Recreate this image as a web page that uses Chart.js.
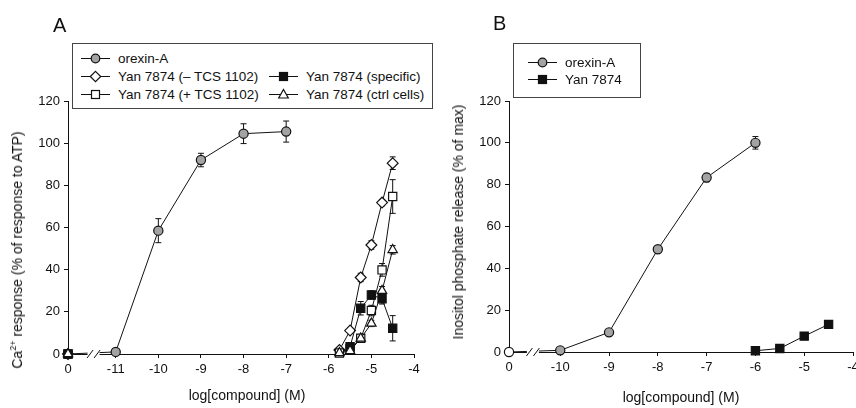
<!DOCTYPE html>
<html lang="en">
<head>
<meta charset="UTF-8">
<title>Orexin-A / Yan 7874 concentration-response</title>
<script src="https://cdn.jsdelivr.net/npm/chart.js"></script>
<style>
    html, body {
        margin: 0;
        padding: 0;
        width: 856px;
        height: 408px;
        overflow: hidden;
        background: #fff;
        font-family: "Liberation Sans", Arial, sans-serif;
        color: #111;
    }
    .panel { position: absolute; top: 0; height: 408px; overflow: hidden; }
    #panelA { left: 0; width: 440px; }
    #panelB { left: 440px; width: 416px; }
    .letter { position: absolute; font-size: 20px; line-height: 1; }
    .ytitle { position: absolute; font-size: 14px; white-space: nowrap; transform: translate(-50%, -50%) rotate(-90deg); }
    .xtitle { position: absolute; font-size: 14px; white-space: nowrap; transform: translate(-50%, -50%); }
    .ytitle sup { font-size: 9px; vertical-align: 6px; line-height: 0; }
    .legend { position: absolute; border: 1px solid #444; background: #fff; box-sizing: border-box; }
    .item { position: absolute; display: flex; align-items: center; white-space: nowrap; font-size: 13.5px; transform: translateY(-50%); }
    .item svg { margin-right: 8px; }
</style>
</head>
<body>

<div id="panelA" class="panel"><canvas id="chartA" width="440" height="408"></canvas></div>
<div id="panelB" class="panel"><canvas id="chartB" width="440" height="408"></canvas></div>

<div class="letter" style="left:53px; top:15px;">A</div>
<div class="letter" style="left:493px; top:13px;">B</div>

<div class="ytitle" style="left:17px; top:250px;">Ca<sup>2+</sup> response (% of response to ATP)</div>
<div class="ytitle" style="left:458px; top:222px;">Inositol phosphate release (% of max)</div>
<div class="xtitle" style="left:247px; top:395px;">log[compound] (M)</div>
<div class="xtitle" style="left:681px; top:397px;">log[compound] (M)</div>

<div class="legend" id="legendA" style="left:72px; top:43px; width:361px; height:66px;"></div>
<div class="legend" id="legendB" style="left:513px; top:43px; width:128px; height:55px;"></div>

<script>
    // ---- data (log M; 0 = control, drawn left of the axis break) ----
    // panel A: Ca2+ response (% of response to ATP)
    const orexinA_dose = [0, -11, -10, -9, -8, -7];
    const orexinA_resp = [0, 1, 58.5, 92, 104.5, 105.5];
    const orexinA_err = [0, 0, 5.7, 3.2, 4.7, 5];

    const yanMinusTcs_dose = [0, -5.75, -5.5, -5.25, -5, -4.75, -4.5];
    const yanMinusTcs_resp = [0, 1.9, 11.1, 36.3, 51.7, 71.8, 90.5];
    const yanMinusTcs_err = [0, 0.5, 1, 2, 2, 1.5, 3];

    const yanPlusTcs_dose = [0, -5.75, -5.5, -5.25, -5, -4.75, -4.5];
    const yanPlusTcs_resp = [0, 0.5, 2.5, 7.5, 20.6, 39.9, 74.7];
    const yanPlusTcs_err = [0, 0, 1, 1.5, 2.5, 3, 8];

    const yanSpecific_dose = [0, -5.5, -5.25, -5, -4.75, -4.5];
    const yanSpecific_resp = [0, 3.5, 21.7, 28, 26.2, 12.2];
    const yanSpecific_err = [0, 1, 3.2, 2, 2.5, 6];

    const yanCtrl_dose = [0, -5.75, -5.5, -5.25, -5, -4.75, -4.5];
    const yanCtrl_resp = [0, 0.5, 1.5, 7.4, 14.5, 30, 49.4];
    const yanCtrl_err = [0, 0, 0.5, 1, 1.5, 2, 2];

    // panel B: inositol phosphate release (% of max)
    const orexinB_dose = [0, -10, -9, -8, -7, -6];
    const orexinB_resp = [0, 0.8, 9.4, 49.1, 83.4, 100];
    const orexinB_err = [0, 0, 0, 0, 2, 3];

    const yanB_dose = [-6, -5.5, -5, -4.5];
    const yanB_resp = [0.6, 1.7, 7.6, 13.2];

    const ticksA = [-11, -10, -9, -8, -7, -6, -5, -4];
    const ticksB = [-10, -9, -8, -7, -6, -5, -4];
    const yTicks = [0, 20, 40, 60, 80, 100, 120];

    // where the control (0) sits on the broken log axis
    const CTRL_A = -12.12, BREAK_A = -11.52;
    const CTRL_B = -11.05, BREAK_B = -10.56;

    const INK = '#111';
    const GRAY = '#a3a3a3';
    const FONT = { family: '"Liberation Sans", Arial, sans-serif', size: 13 };

    function pts(dose, resp, ctrl) {
        return dose.map((d, i) => ({ x: d === 0 ? ctrl : d, y: resp[i] }));
    }

    function series(label, dose, resp, err, ctrl, style, radius, fill, order, joinCtrl) {
        const ds = {
            label: label,
            data: pts(dose, resp, ctrl),
            errors: err,
            order: order,
            borderColor: INK,
            borderWidth: 1,
            tension: 0,
            clip: false,
            pointStyle: style,
            pointRadius: radius,
            pointHoverRadius: radius,
            pointBackgroundColor: fill,
            pointBorderColor: INK,
            pointBorderWidth: 1.2
        };
        // the Yan curves are not joined to their control point (it lies on the axis)
        if (!joinCtrl) {
            ds.segment = { borderColor: c => c.p0.parsed.x === ctrl ? 'rgba(0,0,0,0)' : INK };
        }
        return ds;
    }

    const errorBars = {
        id: 'errorBars',
        beforeDatasetsDraw(chart) {
            const ctx = chart.ctx, ys = chart.scales.y;
            ctx.save();
            ctx.strokeStyle = INK;
            ctx.lineWidth = 1;
            chart.data.datasets.forEach((ds, i) => {
                if (!ds.errors) return;
                chart.getDatasetMeta(i).data.forEach((p, j) => {
                    const e = ds.errors[j];
                    if (!e) return;
                    const v = ds.data[j].y;
                    const t = ys.getPixelForValue(v + e), b = ys.getPixelForValue(v - e);
                    ctx.beginPath();
                    ctx.moveTo(p.x, t); ctx.lineTo(p.x, b);
                    ctx.moveTo(p.x - 3, t); ctx.lineTo(p.x + 3, t);
                    ctx.moveTo(p.x - 3, b); ctx.lineTo(p.x + 3, b);
                    ctx.stroke();
                });
            });
            ctx.restore();
        }
    };

    const axisBreak = {
        id: 'axisBreak',
        afterDatasetsDraw(chart, args, opts) {
            const ctx = chart.ctx;
            const cx = chart.scales.x.getPixelForValue(opts.at);
            const cy = chart.chartArea.bottom;
            ctx.save();
            ctx.fillStyle = '#fff';
            ctx.fillRect(cx - 6, cy - 3, 12, 6);
            ctx.strokeStyle = INK;
            ctx.lineWidth = 1;
            ctx.beginPath();
            [-3.5, 3.5].forEach(o => {
                ctx.moveTo(cx + o - 3, cy + 4);
                ctx.lineTo(cx + o + 3, cy - 4);
            });
            ctx.stroke();
            ctx.restore();
        }
    };

    function makeChart(id, datasets, ctrl, brk, xTicks, yWidth, xHeight, padRight) {
        return new Chart(document.getElementById(id), {
            type: 'line',
            data: { datasets: datasets },
            plugins: [errorBars, axisBreak],
            options: {
                responsive: false,
                animation: false,
                events: [],
                layout: { padding: { left: 0, right: padRight, top: 101, bottom: 0 } },
                scales: {
                    x: {
                        type: 'linear',
                        min: ctrl,
                        max: -4,
                        afterBuildTicks: s => { s.ticks = [ctrl].concat(xTicks).map(v => ({ value: v })); },
                        afterFit: s => { s.height = xHeight; },
                        ticks: {
                            autoSkip: false,
                            maxRotation: 0,
                            padding: 4,
                            color: INK,
                            font: FONT,
                            callback: v => v === ctrl ? '0' : String(v)
                        },
                        grid: { drawOnChartArea: false, drawTicks: true, tickLength: 4, color: INK },
                        border: { display: true, color: INK, width: 1 }
                    },
                    y: {
                        min: 0,
                        max: 120,
                        afterBuildTicks: s => { s.ticks = yTicks.map(v => ({ value: v })); },
                        afterFit: s => { s.width = yWidth; },
                        ticks: { padding: 4, color: INK, font: FONT },
                        grid: { drawOnChartArea: false, drawTicks: true, tickLength: 4, color: INK },
                        border: { display: true, color: INK, width: 1 }
                    }
                },
                plugins: {
                    legend: { display: false },
                    tooltip: { enabled: false },
                    axisBreak: { at: brk }
                }
            }
        });
    }

    makeChart('chartA', [
        series('orexin-A', orexinA_dose, orexinA_resp, orexinA_err, CTRL_A, 'circle', 4.6, GRAY, 4, true),
        series('Yan 7874 (\u2013 TCS 1102)', yanMinusTcs_dose, yanMinusTcs_resp, yanMinusTcs_err, CTRL_A, 'rectRot', 5.4, '#fff', 3, false),
        series('Yan 7874 (+ TCS 1102)', yanPlusTcs_dose, yanPlusTcs_resp, yanPlusTcs_err, CTRL_A, 'rect', 5.8, '#fff', 2, false),
        series('Yan 7874 (specific)', yanSpecific_dose, yanSpecific_resp, yanSpecific_err, CTRL_A, 'rect', 5.8, INK, 1, false),
        series('Yan 7874 (ctrl cells)', yanCtrl_dose, yanCtrl_resp, yanCtrl_err, CTRL_A, 'triangle', 5.4, '#fff', 0, false)
    ], CTRL_A, BREAK_A, ticksA, 68, 54, 26);

    const orexinB = series('orexin-A', orexinB_dose, orexinB_resp, orexinB_err, CTRL_B, 'circle', 4.6, GRAY, 0, true);
    orexinB.pointBackgroundColor = c => (c.raw && c.raw.x === CTRL_B) ? '#fff' : GRAY;
    makeChart('chartB', [
        orexinB,
        series('Yan 7874', yanB_dose, yanB_resp, null, CTRL_B, 'rect', 5.8, INK, 1, true)
    ], CTRL_B, BREAK_B, ticksB, 69, 56, 27);

    // ---- legends (html text, svg symbols) ----
    function symbol(kind, fill) {
        let m = '';
        if (kind === 'circle') m = `<circle cx="14.5" cy="7" r="4.3" fill="${fill}" stroke="${INK}" stroke-width="1.2"/>`;
        if (kind === 'diamond') m = `<polygon points="14.5,1.8 19.7,7 14.5,12.2 9.3,7" fill="${fill}" stroke="${INK}" stroke-width="1.2"/>`;
        if (kind === 'square') m = `<rect x="10.5" y="3" width="8" height="8" fill="${fill}" stroke="${INK}" stroke-width="1.2"/>`;
        if (kind === 'triangle') m = `<polygon points="14.5,2 19.3,10.5 9.7,10.5" fill="${fill}" stroke="${INK}" stroke-width="1.2"/>`;
        return `<svg width="29" height="14" viewBox="0 0 29 14"><line x1="0" y1="7" x2="29" y2="7" stroke="${INK}" stroke-width="1"/>${m}</svg>`;
    }

    function addItem(box, left, top, kind, fill, text) {
        const d = document.createElement('div');
        d.className = 'item';
        d.style.left = left + 'px';
        d.style.top = top + 'px';
        d.innerHTML = symbol(kind, fill) + '<span>' + text + '</span>';
        box.appendChild(d);
    }

    const lgA = document.getElementById('legendA');
    addItem(lgA, 8, 14, 'circle', GRAY, 'orexin-A');
    addItem(lgA, 8, 32, 'diamond', '#fff', 'Yan 7874 (\u2013 TCS 1102)');
    addItem(lgA, 8, 50, 'square', '#fff', 'Yan 7874 (+ TCS 1102)');
    addItem(lgA, 196, 32, 'square', INK, 'Yan 7874 (specific)');
    addItem(lgA, 196, 50, 'triangle', '#fff', 'Yan 7874 (ctrl cells)');

    const lgB = document.getElementById('legendB');
    addItem(lgB, 14, 18, 'circle', GRAY, 'orexin-A');
    addItem(lgB, 14, 35, 'square', INK, 'Yan 7874');
</script>
</body>
</html>
